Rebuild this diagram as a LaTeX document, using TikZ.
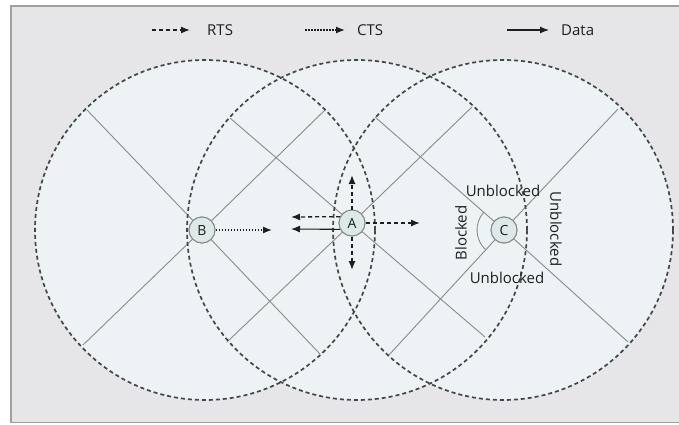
\documentclass[tikz,border=0pt]{standalone}
\usepackage{fontspec}
\setmainfont{Open Sans}
\usetikzlibrary{arrows.meta}
\definecolor{framefill}{HTML}{E6E6E8}
\definecolor{framedraw}{HTML}{A0A0A0}
\definecolor{rangefill}{HTML}{EDF3F4}
\definecolor{rangeline}{HTML}{454545}
\definecolor{spoke}{HTML}{8A8A8A}
\definecolor{stationfill}{HTML}{DDE8E8}
\definecolor{ink}{HTML}{1E1E1E}
\tikzset{
  rangeborder/.style={draw=rangeline, line width=1.7pt, dash pattern=on 4pt off 3pt},
  spokeline/.style={draw=spoke, line width=0.9pt},
  station/.style={circle, draw=spoke, line width=1pt, fill=stationfill,
    minimum size=26pt, inner sep=0pt, text=ink,
    font=\fontsize{14pt}{16pt}\selectfont},
  tip/.style={-{Latex[length=9pt,width=7pt]}},
  rtsarrow/.style={tip, draw=ink, line width=1.3pt, dash pattern=on 4pt off 3pt},
  ctsarrow/.style={tip, draw=ink, line width=1.3pt, dash pattern=on 1.5pt off 1.5pt},
  dataarrow/.style={tip, draw=ink, line width=1.1pt},
  lbl/.style={text=ink, inner sep=0pt, font=\fontsize{15pt}{17pt}\selectfont},
}
\begin{document}
\begin{tikzpicture}[x=1pt, y=1pt]
\useasboundingbox (0,0) rectangle (679,424);
% panel
\fill[white] (0,0) rectangle (679,424);
\filldraw[fill=framefill, draw=framedraw, line width=1.5pt] (11,1.5) rectangle (690,418);

% transmission ranges
\coordinate (cB) at (205,194);
\coordinate (cA) at (357,194);
\coordinate (cC) at (503,194);
\fill[rangefill] (cB) circle[radius=170pt];
\fill[rangefill] (cA) circle[radius=170pt];
\fill[rangefill] (cC) circle[radius=170pt];

% stations
\node[station] (B) at (202,194) {B};
\node[station] (A) at (352,201) {A};
\node[station] (C) at (504,194) {C};

% spoke end points on the range borders
\coordinate (bUL) at (87,314);  \coordinate (bUR) at (325,314);
\coordinate (bLL) at (83,79);   \coordinate (bLR) at (320,70);
\coordinate (aUL) at (230,306); \coordinate (aUR) at (472,317);
\coordinate (aLL) at (227,82);  \coordinate (aLR) at (485,87);
\coordinate (cUL) at (375,307); \coordinate (cUR) at (618,315);
\coordinate (cLL) at (388,68);  \coordinate (cLR) at (628,82);

\foreach \s/\n in {bUL/B,bUR/B,bLL/B,bLR/B,aUL/A,aUR/A,aLL/A,aLR/A,cUL/C,cUR/C,cLL/C,cLR/C}
  \draw[spokeline] (\s) -- (\n);

% range borders
\draw[rangeborder] (cB) circle[radius=170pt];
\draw[rangeborder] (cA) circle[radius=170pt];
\draw[rangeborder] (cC) circle[radius=170pt];

% redraw stations on top
\node[station] at (B) {B};
\node[station] at (A) {A};
\node[station] at (C) {C};

% blocked sector at C
\draw[spokeline] ([shift={(139:27pt)}]C.center) arc[start angle=139, end angle=227, radius=27pt];

% arrows
\coordinate (bR) at (272,194);
\coordinate (aR) at (420,201);
\coordinate (aU) at (352,249);
\coordinate (aD) at (352,154);
\coordinate (aL1) at (291,207);
\coordinate (aL2) at (291,195);
\draw[ctsarrow] (B.east) -- (bR);
\draw[rtsarrow] (A.east) -- (aR);
\draw[rtsarrow] (A.north) -- (aU);
\draw[rtsarrow] (A.south) -- (aD);
\draw[rtsarrow] (A.152) -- (aL1);
\draw[dataarrow] (A.208) -- (aL2);

% labels at C
\node[lbl] (u1) at (503,233) {Unblocked};
\node[lbl] (u2) at (507,146) {Unblocked};
\node[lbl, rotate=90] (bl) at (461,191) {Blocked};
\node[lbl, rotate=-90] (u3) at (556,195) {Unblocked};

% legend
\coordinate (l1a) at (152,394); \coordinate (l1b) at (190,394);
\coordinate (l2a) at (305,394); \coordinate (l2b) at (345,394);
\coordinate (l3a) at (507,394); \coordinate (l3b) at (549,394);
\draw[rtsarrow] (l1a) -- (l1b);
\draw[ctsarrow] (l2a) -- (l2b);
\draw[dataarrow] (l3a) -- (l3b);
\node[lbl, anchor=west] (trts) at (207,394) {RTS};
\node[lbl, anchor=west] (tcts) at (357,394) {CTS};
\node[lbl, anchor=west] (tdata) at (561,394) {Data};
\end{tikzpicture}
\end{document}
